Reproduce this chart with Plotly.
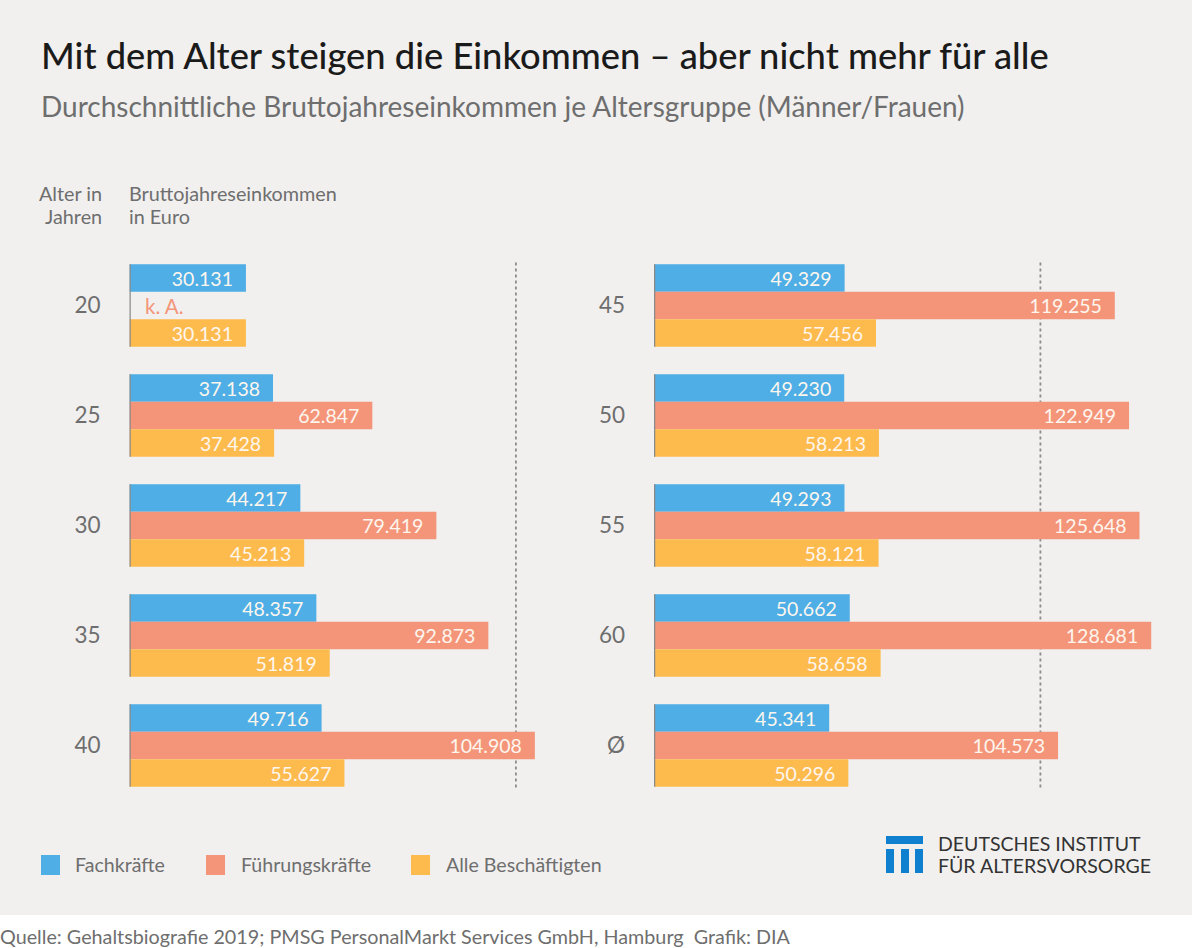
import plotly.graph_objects as go

# Werte aus der Grafik
alter_links = ["20", "25", "30", "35", "40"]
fach_links = [30131, 37138, 44217, 48357, 49716]
fuehr_links = [None, 62847, 79419, 92873, 104908]
alle_links = [30131, 37428, 45213, 51819, 55627]

alter_rechts = ["45", "50", "55", "60", "Ø"]
fach_rechts = [49329, 49230, 49293, 50662, 45341]
fuehr_rechts = [119255, 122949, 125648, 128681, 104573]
alle_rechts = [57456, 58213, 58121, 58658, 50296]

namen = ["Fachkräfte", "Führungskräfte", "Alle Beschäftigten"]
farben = ["#4eaee5", "#f4957a", "#fdbb4e"]
legende_x = [41, 206, 411]

hintergrund = "#f1f0ef"
schrift = "Lato"
B, H = 1192, 948


def px(x):
    return x / B


def py(y):
    return 1 - y / H


def label(werte):
    return ["" if v is None else f"{v:,}".replace(",", ".") + "\u00a0\u00a0" for v in werte]


fig = go.Figure()

spalten = [
    (alter_links, [fach_links, fuehr_links, alle_links], "x", "y"),
    (alter_rechts, [fach_rechts, fuehr_rechts, alle_rechts], "x2", "y2"),
]
for alter, reihen, xa, ya in spalten:
    for name, farbe, werte in zip(namen, farben, reihen):
        fig.add_trace(go.Bar(
            y=alter, x=werte, name=name, orientation="h",
            marker=dict(color=farbe, line_width=0),
            text=label(werte), textposition="inside", insidetextanchor="end",
            textangle=0, constraintext="none",
            insidetextfont=dict(color="#fdf6ee", size=19.5, family=schrift),
            xaxis=xa, yaxis=ya, showlegend=False,
        ))

shapes = [dict(type="rect", xref="paper", yref="paper", x0=0, x1=1, y0=py(915), y1=1,
               fillcolor=hintergrund, line_width=0, layer="below")]

# gepunktete Linie bei 100.000 und Achsenstrich je Gruppe
for xa, ya in [("x", "y"), ("x2", "y2")]:
    shapes.append(dict(type="line", xref=xa, yref=ya, x0=100000, x1=100000, y0=-0.39, y1=4.39,
                       line=dict(color="#8c8c8c", width=1.8, dash="dot"), layer="below"))
    for i in range(5):
        shapes.append(dict(type="line", xref=xa, yref=ya, x0=0, x1=0, y0=i - 0.375, y1=i + 0.375,
                           line=dict(color="#8a8a8a", width=2.5)))

# Legende
for x, farbe in zip(legende_x, farben):
    shapes.append(dict(type="rect", xref="paper", yref="paper", x0=px(x), x1=px(x + 19),
                       y0=py(875), y1=py(855), fillcolor=farbe, line_width=0))

# Logo
for x0, y0, x1, y1 in [(886, 836, 923, 844), (886, 849, 894, 873), (901, 849, 909, 873), (915, 849, 923, 873)]:
    shapes.append(dict(type="rect", xref="paper", yref="paper", x0=px(x0), x1=px(x1),
                       y0=py(y1), y1=py(y0), fillcolor="#0f7fcf", line_width=0))


def text(x, y, s, size, color, anchor="left", weight=None):
    return dict(xref="paper", yref="paper", x=px(x), y=py(y), text=s, showarrow=False,
                xanchor=anchor, yanchor="middle", align=anchor,
                font=dict(size=size, color=color, family=schrift, weight=weight))


annotations = [
    text(39, 55.5, "Mit dem Alter steigen die Einkommen – aber nicht mehr für alle", 36.3, "#1a1a1a", weight=500),
    text(39, 106, "Durchschnittliche Bruttojahreseinkommen je Altersgruppe (Männer/Frauen)", 28, "#6e6e6e"),
    text(103.5, 192.5, "Alter in", 19.8, "#6e6e6e", "right"),
    text(103.5, 216.5, "Jahren", 19.8, "#6e6e6e", "right"),
    text(127, 192.5, "Bruttojahreseinkommen", 19.8, "#6e6e6e"),
    text(127, 216.5, "in Euro", 19.8, "#6e6e6e"),
    text(73, 864.5, namen[0], 19.6, "#6e6e6e"),
    text(239, 864.5, namen[1], 19.6, "#6e6e6e"),
    text(444, 864.5, namen[2], 19.6, "#6e6e6e"),
    text(936, 843, "DEUTSCHES INSTITUT", 19.5, "#333333"),
    text(936, 865.5, "FÜR ALTERSVORSORGE", 19.5, "#333333"),
    text(-2, 936, "Quelle: Gehaltsbiografie 2019; PMSG PersonalMarkt Services GmbH, Hamburg  Grafik: DIA", 19.75, "#6e6e6e"),
    dict(xref="x", yref="y", x=0, y=alter_links.index("20"), xshift=13, text="k. A.", showarrow=False,
         xanchor="left", font=dict(size=20.5, color="#f4957a", family=schrift)),
]

achse_x = dict(showgrid=False, zeroline=False, showticklabels=False, showline=False, ticks="")
achse_y = dict(type="category", range=[4.5, -0.5], showgrid=False, zeroline=False, showline=False,
               ticks="", ticklabelstandoff=28, tickfont=dict(size=22.5, color="#6e6e6e", family=schrift))

fig.update_layout(
    width=B, height=H, margin=dict(l=0, r=0, t=0, b=0),
    paper_bgcolor="white", plot_bgcolor="rgba(0,0,0,0)",
    barmode="group", bargap=0.25, bargroupgap=0,
    font=dict(family=schrift),
    xaxis=dict(achse_x, domain=[px(129.5), px(129.5 + 110000 * 0.003864)], range=[0, 110000]),
    xaxis2=dict(achse_x, domain=[px(654), px(654 + 130000 * 0.003864)], range=[0, 130000]),
    yaxis=dict(achse_y, domain=[py(800.5), py(250.5)], anchor="x", categoryorder="array", categoryarray=alter_links),
    yaxis2=dict(achse_y, domain=[py(800.5), py(250.5)], anchor="x2", categoryorder="array", categoryarray=alter_rechts),
    shapes=shapes, annotations=annotations,
)

# Standardrand des Browsers entfernen
fig.write_html("out.html", config={"displayModeBar": False},
               post_script="document.body.style.margin='0';document.documentElement.style.overflow='hidden';")
